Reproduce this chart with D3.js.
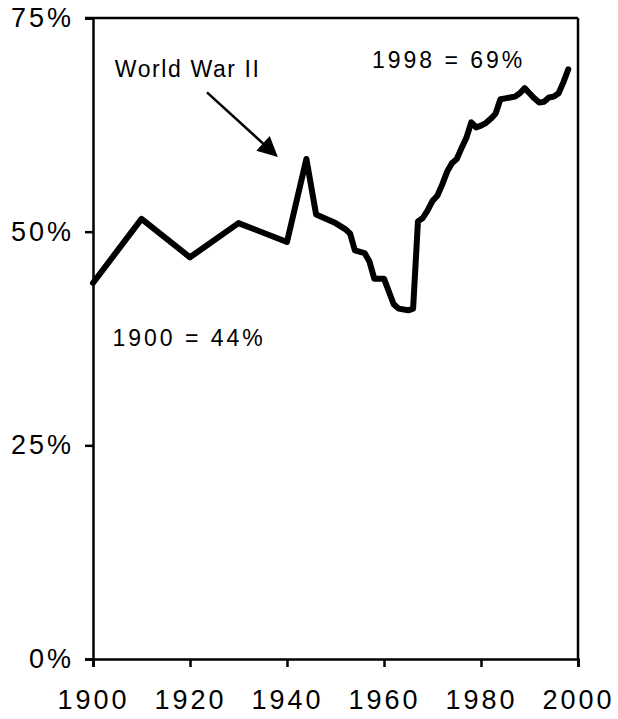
<!DOCTYPE html>
<html>
<head>
<meta charset="utf-8">
<script src="https://cdn.jsdelivr.net/npm/d3@7"></script>
<style>
    body { margin: 0; background: white; }
    text { font-family: "Liberation Sans", Arial, sans-serif; fill: black; }
</style>
</head>
<body>
<div id="chart"></div>
<script>
// values
const years = [1900, 1910, 1920, 1930, 1940, 1944, 1946, 1948, 1950, 1952, 1953, 1954, 1956, 1957, 1958,
    1960, 1961, 1962, 1963, 1965, 1966, 1967, 1968, 1969, 1970, 1971, 1972, 1973, 1974, 1975,
    1976, 1977, 1978, 1979, 1980, 1981, 1982, 1983, 1984, 1985, 1986, 1987, 1988, 1989, 1990,
    1991, 1992, 1993, 1994, 1995, 1996, 1997, 1998];
const shares = [44, 51.5, 47, 51, 48.8, 58.5, 52, 51.5, 51, 50.3, 49.8, 47.8, 47.5, 46.5, 44.5,
    44.5, 43, 41.5, 41, 40.8, 41, 51.2, 51.6, 52.5, 53.6, 54.2, 55.5, 57, 58, 58.5,
    59.8, 61, 62.8, 62.2, 62.4, 62.7, 63.2, 63.8, 65.5, 65.6, 65.7, 65.8, 66.2, 66.8, 66.2,
    65.6, 65.1, 65.2, 65.7, 65.8, 66.2, 67.5, 69];

const xTicks = [1900, 1920, 1940, 1960, 1980, 2000];
const yTicks = [0, 25, 50, 75];

const noteTexts = ["World War II", "1998 = 69%", "1900 = 44%"];
const noteYears = [1904.5, 1957.5, 1904];
const noteShares = [68.1, 69.2, 36.6];

const width = 618, height = 719;
const plot = {left: 93, right: 578, top: 18, bottom: 659};

const svg = d3.select("#chart").append("svg")
    .attr("width", width)
    .attr("height", height);

const xScale = d3.scaleLinear()
    .domain([1900, 2000])
    .range([plot.left, plot.right]);

const yScale = d3.scaleLinear()
    .domain([0, 75])
    .range([plot.bottom, plot.top]);

// box: top and right edges
svg.append("line")
    .attr("x1", plot.left - 8).attr("x2", plot.right)
    .attr("y1", plot.top).attr("y2", plot.top)
    .attr("stroke", "black").attr("stroke-width", 2.5);

svg.append("line")
    .attr("x1", plot.right).attr("x2", plot.right)
    .attr("y1", plot.top).attr("y2", plot.bottom)
    .attr("stroke", "black").attr("stroke-width", 2.5);

const xAxis = svg.append("g")
    .attr("transform", `translate(0,${plot.bottom})`)
    .call(d3.axisBottom(xScale)
        .tickValues(xTicks)
        .tickFormat(d3.format("d"))
        .tickSize(8)
        .tickPadding(18));

const yAxis = svg.append("g")
    .attr("transform", `translate(${plot.left},0)`)
    .call(d3.axisLeft(yScale)
        .tickValues(yTicks)
        .tickFormat(d => d + "%")
        .tickSize(8)
        .tickPadding(13));

[xAxis, yAxis].forEach(g => {
    g.select(".domain").attr("stroke-width", 2.5);
    g.selectAll(".tick line").attr("stroke-width", 2.5);
    g.selectAll("text")
        .attr("font-size", "27px")
        .attr("letter-spacing", "3px")
        .style("font-family", "'Liberation Sans', Arial, sans-serif");
});
xAxis.selectAll("text").attr("dy", "0.9em");
yAxis.selectAll("text").attr("dx", "2px");

// the series
const line = d3.line()
    .x((d, i) => xScale(years[i]))
    .y(d => yScale(d));

svg.append("path")
    .datum(shares)
    .attr("fill", "none")
    .attr("stroke", "black")
    .attr("stroke-width", 6)
    .attr("stroke-linejoin", "round")
    .attr("stroke-linecap", "round")
    .attr("d", line);

// notes
svg.selectAll(".note")
    .data(noteTexts)
    .enter()
    .append("text")
    .attr("class", "note")
    .attr("x", (d, i) => xScale(noteYears[i]))
    .attr("y", (d, i) => yScale(noteShares[i]))
    .attr("font-size", "23px")
    .attr("letter-spacing", (d, i) => i === 0 ? "1.6px" : "3px")
    .text(d => d);

// arrow pointing at the war peak
svg.append("defs").append("marker")
    .attr("id", "head")
    .attr("viewBox", "0 0 10 10")
    .attr("refX", 9).attr("refY", 5)
    .attr("markerWidth", 9).attr("markerHeight", 8)
    .attr("markerUnits", "strokeWidth")
    .attr("orient", "auto")
    .append("path")
    .attr("d", "M0,0 L10,5 L0,10 z")
    .attr("fill", "black");

svg.append("line")
    .attr("x1", xScale(1923.5)).attr("y1", yScale(66.3))
    .attr("x2", xScale(1937.8)).attr("y2", yScale(58.9))
    .attr("stroke", "black")
    .attr("stroke-width", 2.5)
    .attr("marker-end", "url(#head)");
</script>
</body>
</html>
